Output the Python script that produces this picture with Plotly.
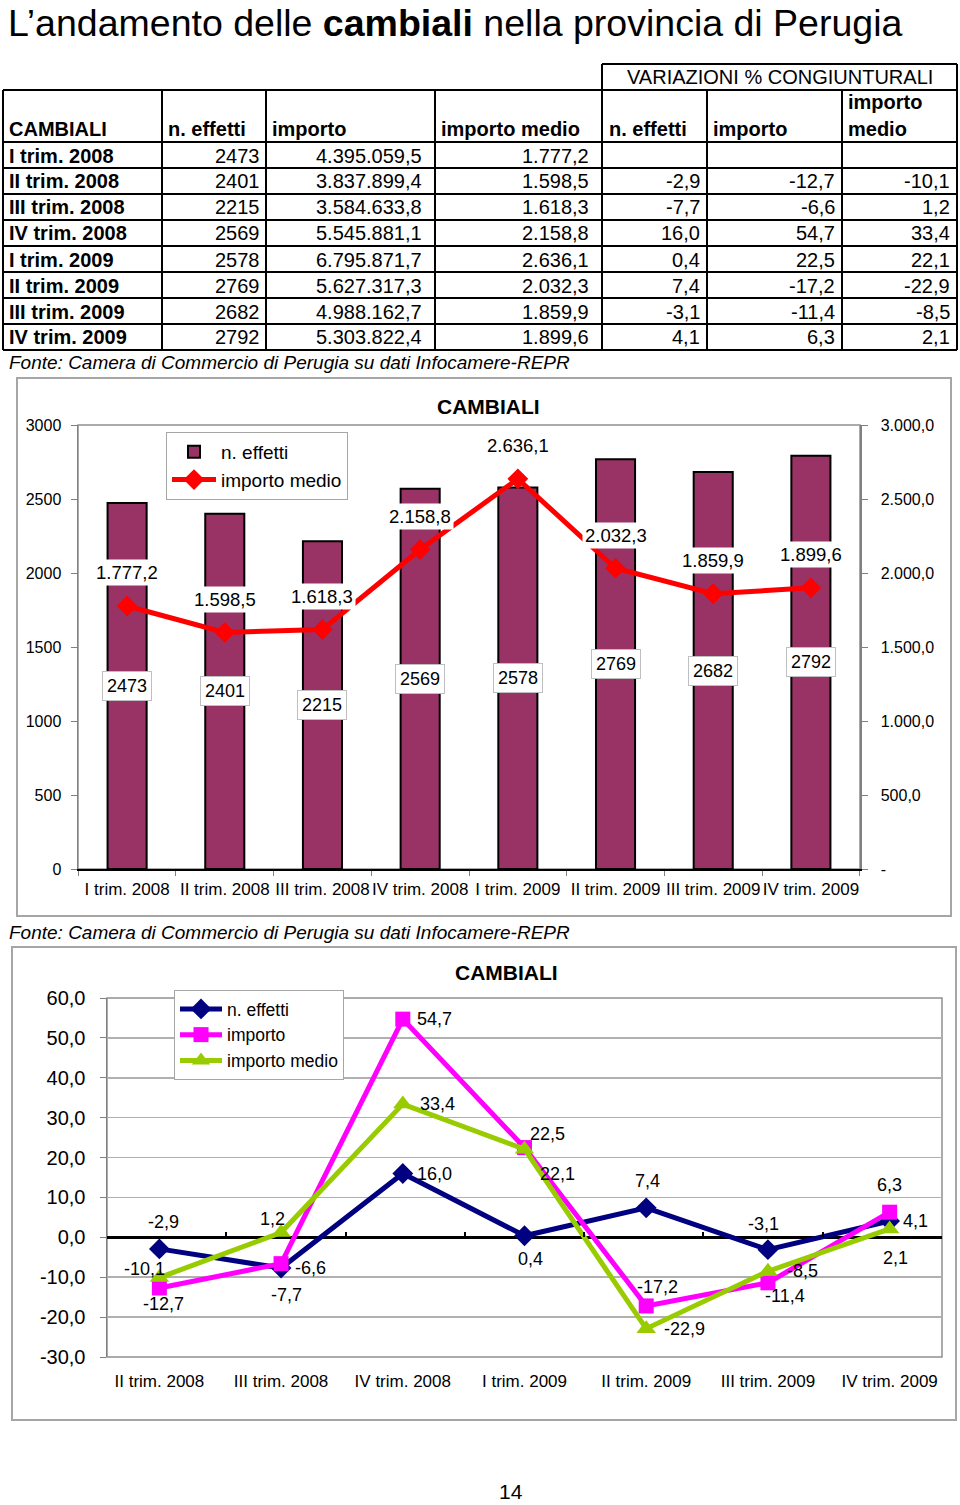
import plotly.graph_objects as go

W, H = 960, 1505


def px(x):
    return x / W


def py(y):
    return 1 - y / H


# ---------------- data ----------------
quarters = ["I trim. 2008", "II trim. 2008", "III trim. 2008", "IV trim. 2008",
            "I trim. 2009", "II trim. 2009", "III trim. 2009", "IV trim. 2009"]
n_effetti = [2473, 2401, 2215, 2569, 2578, 2769, 2682, 2792]
importo = [4395059.5, 3837899.4, 3584633.8, 5545881.1,
           6795871.7, 5627317.3, 4988162.7, 5303822.4]
importo_medio = [1777.2, 1598.5, 1618.3, 2158.8, 2636.1, 2032.3, 1859.9, 1899.6]
var_n_effetti = [None, -2.9, -7.7, 16.0, 0.4, 7.4, -3.1, 4.1]
var_importo = [None, -12.7, -6.6, 54.7, 22.5, -17.2, -11.4, 6.3]
var_importo_medio = [None, -10.1, 1.2, 33.4, 22.1, -22.9, -8.5, 2.1]

ticks_chart1 = [0, 500, 1000, 1500, 2000, 2500, 3000]
ticks_chart2 = [-30, -20, -10, 0, 10, 20, 30, 40, 50, 60]

FONT = "Liberation Sans, Arial, Helvetica, sans-serif"


def it(v, dec=1):
    s = f"{v:,.{dec}f}"
    return s.replace(",", "X").replace(".", ",").replace("X", ".")


fig = go.Figure()

# ---------------- chart 1 ----------------
fig.add_trace(go.Bar(
    x=quarters, y=n_effetti, name="n. effetti", width=0.4,
    marker=dict(color="#993366", line=dict(color="black", width=2)),
    xaxis="x", yaxis="y", legend="legend", hoverinfo="skip"))
fig.add_trace(go.Scatter(
    x=quarters, y=importo_medio, name="importo medio", mode="lines+markers",
    line=dict(color="#FF0000", width=5),
    marker=dict(symbol="diamond", size=16, color="#FF0000"),
    xaxis="x", yaxis="y2", legend="legend", hoverinfo="skip"))

# ---------------- chart 2 ----------------
q2 = quarters[1:]
series2 = [
    ("n. effetti", var_n_effetti[1:], "#000080", "diamond", 16),
    ("importo", var_importo[1:], "#FF00FF", "square", 15),
    ("importo medio", var_importo_medio[1:], "#99CC00", "triangle-up", 17),
]
for name, vals, col, sym, size in series2:
    fig.add_trace(go.Scatter(
        x=q2, y=vals, name=name, mode="lines+markers",
        line=dict(color=col, width=5),
        marker=dict(symbol=sym, size=size, color=col),
        xaxis="x2", yaxis="y3", legend="legend2", hoverinfo="skip"))
# invisible helper trace carrying the category tick marks along the zero line
fig.add_trace(go.Scatter(x=q2, y=[None] * len(q2), mode="markers", showlegend=False,
                         xaxis="x3", yaxis="y3", hoverinfo="skip"))

annotations = []
shapes = []

# ---------------- page title ----------------
annotations.append(dict(
    xref="paper", yref="paper", x=px(6), y=py(0), xanchor="left", yanchor="top",
    text="L’andamento delle <b>cambiali</b> nella provincia di Perugia",
    showarrow=False, font=dict(size=37.5, family=FONT, color="black")))

# ---------------- table ----------------
cols = [3, 162, 266, 435, 602, 707, 842, 957]
row_top = 142
row_h = 26
nrows = len(quarters)
LW = 2
shapes.append(dict(type="line", xref="paper", yref="paper", x0=px(602), x1=px(957),
                   y0=py(64), y1=py(64), line=dict(color="black", width=LW)))
for xc in (602, 957):
    shapes.append(dict(type="line", xref="paper", yref="paper", x0=px(xc), x1=px(xc),
                       y0=py(64), y1=py(90), line=dict(color="black", width=LW)))
hl = [90] + [row_top + row_h * k for k in range(nrows + 1)]
for yy in hl:
    shapes.append(dict(type="line", xref="paper", yref="paper", x0=px(cols[0]), x1=px(cols[-1]),
                       y0=py(yy), y1=py(yy), line=dict(color="black", width=LW)))
for xc in cols:
    shapes.append(dict(type="line", xref="paper", yref="paper", x0=px(xc), x1=px(xc),
                       y0=py(90), y1=py(row_top + row_h * nrows), line=dict(color="black", width=LW)))

TF = 20
annotations.append(dict(xref="paper", yref="paper", x=px(780), y=py(77), xanchor="center",
                        yanchor="middle", text="VARIAZIONI % CONGIUNTURALI", showarrow=False,
                        font=dict(size=TF, family=FONT, color="black")))
header = [("CAMBIALI", 7), ("n. effetti", 166), ("importo", 270), ("importo medio", 439),
          ("n. effetti", 607), ("importo", 711)]
for txt, xx in header:
    annotations.append(dict(xref="paper", yref="paper", x=px(xx), y=py(129), xanchor="left",
                            yanchor="middle", text=f"<b>{txt}</b>", showarrow=False,
                            font=dict(size=TF, family=FONT, color="black")))
for txt, yy in (("importo", 102), ("medio", 129)):
    annotations.append(dict(xref="paper", yref="paper", x=px(846), y=py(yy), xanchor="left",
                            yanchor="middle", text=f"<b>{txt}</b>", showarrow=False,
                            font=dict(size=TF, family=FONT, color="black")))

right_edges = [262, 424, 591, 702, 837, 952]
for i, q in enumerate(quarters):
    yc = py(row_top + row_h * i + 13.5)
    annotations.append(dict(xref="paper", yref="paper", x=px(7), y=yc, xanchor="left",
                            yanchor="middle", text=f"<b>{q}</b>", showarrow=False,
                            font=dict(size=TF, family=FONT, color="black")))
    vals = [str(n_effetti[i]), it(importo[i]), it(importo_medio[i]),
            None if var_n_effetti[i] is None else it(var_n_effetti[i]),
            None if var_importo[i] is None else it(var_importo[i]),
            None if var_importo_medio[i] is None else it(var_importo_medio[i])]
    for txt, xr in zip(vals, right_edges):
        if txt is None:
            continue
        annotations.append(dict(xref="paper", yref="paper", x=px(xr), y=yc, xanchor="right",
                                yanchor="middle", text=txt, showarrow=False,
                                font=dict(size=TF, family=FONT, color="black")))

fonte = "Fonte: Camera di Commercio di Perugia su dati Infocamere-REPR"
for yy in (363, 932):
    annotations.append(dict(xref="paper", yref="paper", x=px(7), y=py(yy), xanchor="left",
                            yanchor="middle", text=f"<i>{fonte}</i>", showarrow=False,
                            font=dict(size=19, family=FONT, color="black")))

# ---------------- chart frames ----------------
FRAME = "#A6A6A6"
shapes.append(dict(type="rect", xref="paper", yref="paper", x0=px(17), x1=px(951),
                   y0=py(916), y1=py(378), line=dict(color=FRAME, width=2), layer="below"))
shapes.append(dict(type="rect", xref="paper", yref="paper", x0=px(12), x1=px(956),
                   y0=py(1420), y1=py(947), line=dict(color=FRAME, width=2), layer="below"))
shapes.append(dict(type="rect", xref="x domain", yref="y domain", x0=0, x1=1, y0=0, y1=1,
                   line=dict(color="#909090", width=1.5), layer="below"))
shapes.append(dict(type="rect", xref="x2 domain", yref="y3 domain", x0=0, x1=1, y0=0, y1=1,
                   line=dict(color="#909090", width=1.5), layer="below"))

annotations.append(dict(xref="paper", yref="paper", x=px(488), y=py(406), xanchor="center",
                        yanchor="middle", text="<b>CAMBIALI</b>", showarrow=False,
                        font=dict(size=21, family=FONT, color="black")))
annotations.append(dict(xref="paper", yref="paper", x=px(507), y=py(972), xanchor="center",
                        yanchor="middle", text="<b>CAMBIALI</b>", showarrow=False,
                        font=dict(size=21, family=FONT, color="black")))

for q, v in zip(quarters, n_effetti):
    annotations.append(dict(xref="x", yref="y", x=q, y=v / 2, text=str(v), showarrow=False,
                            bgcolor="white", bordercolor="#BFBFBF", borderwidth=1, borderpad=4,
                            font=dict(size=18, family=FONT, color="black")))
for q, v in zip(quarters, importo_medio):
    annotations.append(dict(xref="x", yref="y2", x=q, y=v, yshift=33, text=it(v), showarrow=False,
                            bgcolor="white", borderpad=2,
                            font=dict(size=18.5, family=FONT, color="black")))

offsets = {
    "n. effetti": [(4, 27), (5, -27), (32, 0), (6, -23), (1, 27), (-4, 26), (26, 0)],
    "importo": [(4, -16), (29, -4), (32, 0), (23, 14), (11, 19), (17, -13), (0, 27)],
    "importo medio": [(-15, 9), (-9, 14), (35, 0), (33, -25), (38, 0), (35, 0), (6, -29)],
}
for name, vals, col, sym, size in series2:
    for q, v, (dx, dy) in zip(q2, vals, offsets[name]):
        annotations.append(dict(xref="x2", yref="y3", x=q, y=v, xshift=dx, yshift=dy,
                                text=it(v), showarrow=False,
                                font=dict(size=18, family=FONT, color="black")))

annotations.append(dict(xref="paper", yref="paper", x=px(511), y=0, xanchor="center",
                        yanchor="bottom", text="14", showarrow=False,
                        font=dict(size=21, family=FONT, color="black")))

y3_dom = [py(1357), py(998)]
y3_rng = [-30, 60]
zero_pos = y3_dom[0] + (0 - y3_rng[0]) / (y3_rng[1] - y3_rng[0]) * (y3_dom[1] - y3_dom[0])

fig.update_layout(
    width=W, height=H, margin=dict(l=0, r=0, t=0, b=0, autoexpand=False),
    paper_bgcolor="white", plot_bgcolor="white",
    separators=",.",
    font=dict(family=FONT, color="black"),
    showlegend=True,
    xaxis=dict(domain=[px(78), px(860)], anchor="y", type="category",
               categoryorder="array", categoryarray=quarters,
               tickson="boundaries", ticks="outside", ticklen=5, tickcolor="#808080",
               showline=True, linecolor="black", linewidth=2, showgrid=False,
               tickangle=0, automargin=False,
               tickfont=dict(size=17), ticklabelstandoff=4),
    yaxis=dict(domain=[py(869), py(425)], anchor="x", range=[0, 3000],
               tickvals=ticks_chart1, ticktext=[str(t) for t in ticks_chart1],
               ticks="outside", ticklen=6, tickcolor="#808080", automargin=False,
               showline=True, linecolor="#808080", linewidth=1.5, showgrid=False, zeroline=False,
               tickfont=dict(size=16), ticklabelstandoff=6),
    yaxis2=dict(overlaying="y", side="right", anchor="x", range=[0, 3000],
                tickvals=ticks_chart1,
                ticktext=["-" if t == 0 else it(t) for t in ticks_chart1],
                ticks="outside", ticklen=6, tickcolor="#808080", automargin=False,
                showline=True, linecolor="#808080", linewidth=1.5, showgrid=False, zeroline=False,
                tickfont=dict(size=16), ticklabelstandoff=10),
    xaxis2=dict(domain=[px(107), px(942)], anchor="y3", type="category",
                categoryorder="array", categoryarray=q2,
                ticks="", showline=False, showgrid=False, tickangle=0, automargin=False,
                tickfont=dict(size=17), ticklabelstandoff=12),
    xaxis3=dict(overlaying="x2", anchor="free", position=zero_pos, type="category",
                categoryorder="array", categoryarray=q2, range=[-0.5, len(q2) - 0.5],
                tickson="boundaries", ticks="inside", ticklen=5, tickcolor="black", tickwidth=2,
                showticklabels=False, showline=False, showgrid=False, automargin=False),
    yaxis3=dict(domain=y3_dom, anchor="x2", range=y3_rng,
                tickvals=ticks_chart2, ticktext=[it(t) for t in ticks_chart2],
                ticks="outside", ticklen=6, tickcolor="#808080", automargin=False,
                showline=True, linecolor="#808080", linewidth=1.5,
                showgrid=True, gridcolor="#B0B0B0", gridwidth=1.5,
                zeroline=True, zerolinecolor="black", zerolinewidth=3,
                tickfont=dict(size=20), ticklabelstandoff=10),
    legend=dict(x=px(166), y=py(432), xanchor="left", yanchor="top",
                bgcolor="white", bordercolor="#A6A6A6", borderwidth=1, itemwidth=44,
                font=dict(size=19, family=FONT), tracegroupgap=0),
    legend2=dict(x=px(174), y=py(990), xanchor="left", yanchor="top",
                 bgcolor="white", bordercolor="#A6A6A6", borderwidth=1, itemwidth=42,
                 font=dict(size=17.5, family=FONT), tracegroupgap=0),
    annotations=annotations,
    shapes=shapes,
)

fig.write_html(
    "out.html",
    config={"displayModeBar": False, "staticPlot": True},
    post_script="document.body.style.margin='0';document.body.style.overflow='hidden';"
                "document.documentElement.style.overflow='hidden';")
